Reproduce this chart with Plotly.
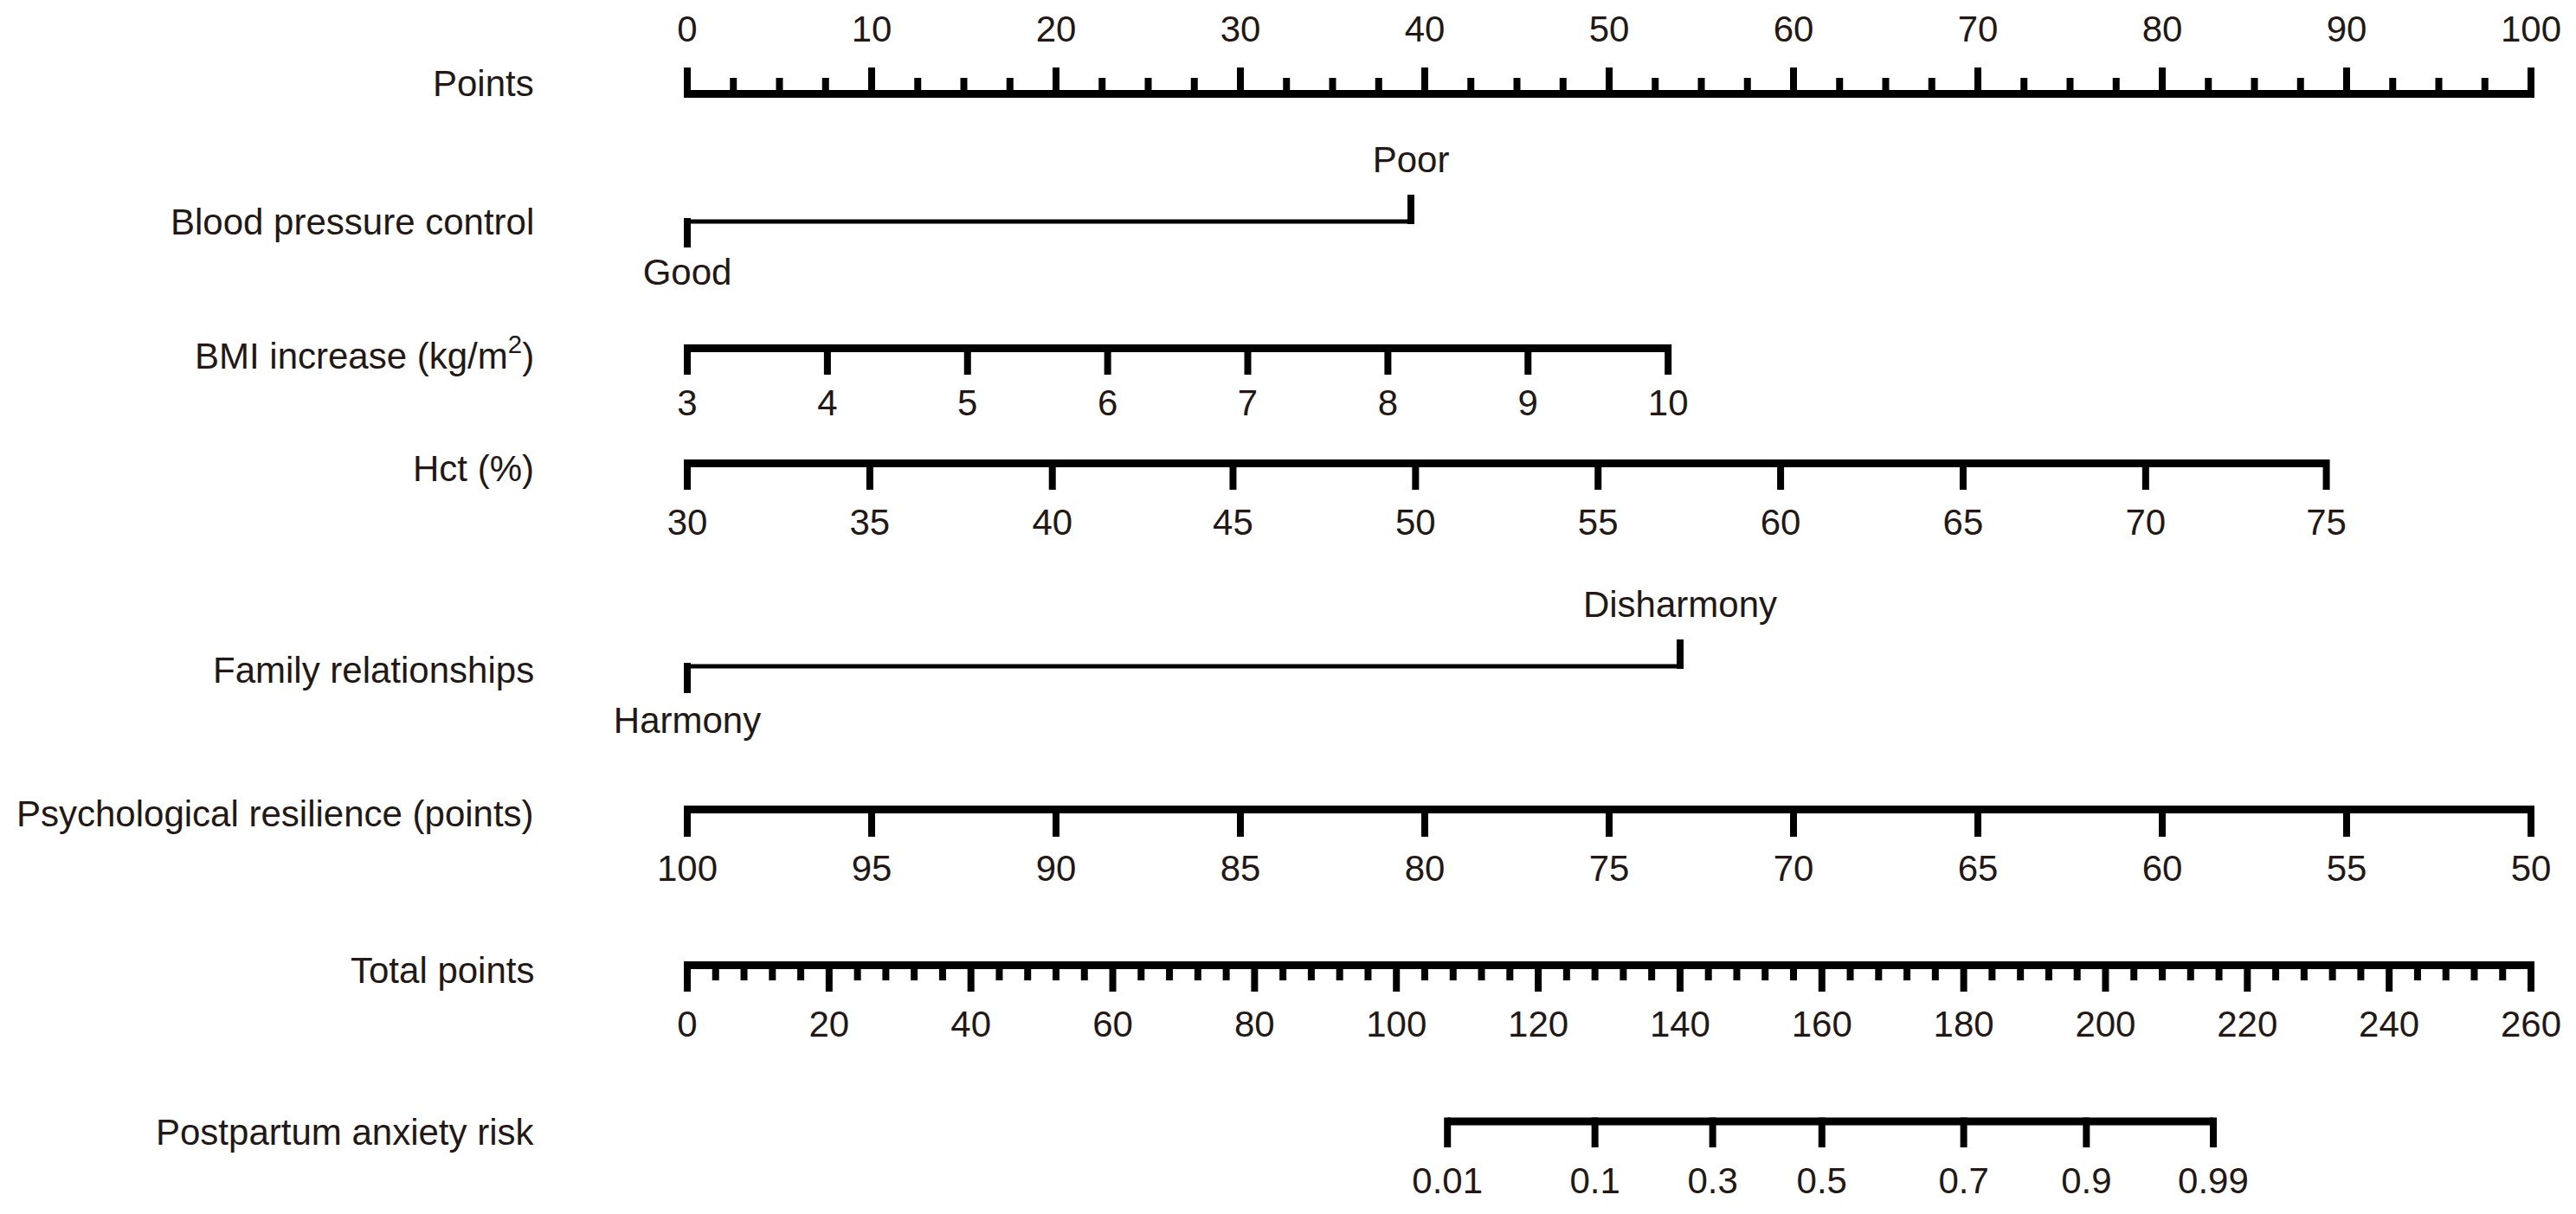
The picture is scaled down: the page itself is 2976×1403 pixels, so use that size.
import plotly.graph_objects as go

# ---------------- data ----------------
points_major = [0, 10, 20, 30, 40, 50, 60, 70, 80, 90, 100]
points_minor = [v / 10 for v in range(0, 1001, 25) if v % 100 != 0]

bp_levels = ["Good", "Poor"]
bp_points = [0.0, 39.25]

bmi_values = [3, 4, 5, 6, 7, 8, 9, 10]
bmi_points = [0.0, 7.6, 15.2, 22.8, 30.4, 38.0, 45.6, 53.2]

hct_values = [30, 35, 40, 45, 50, 55, 60, 65, 70, 75]
hct_points = [0.0, 9.9, 19.8, 29.6, 39.5, 49.4, 59.3, 69.2, 79.1, 88.9]

family_levels = ["Harmony", "Disharmony"]
family_points = [0.0, 53.85]

psych_values = [100, 95, 90, 85, 80, 75, 70, 65, 60, 55, 50]
psych_points = [0, 10, 20, 30, 40, 50, 60, 70, 80, 90, 100]

total_major = [0, 20, 40, 60, 80, 100, 120, 140, 160, 180, 200, 220, 240, 260]
total_minor = [v for v in range(0, 261, 4) if v % 20 != 0]

risk_labels = ["0.01", "0.1", "0.3", "0.5", "0.7", "0.9", "0.99"]
risk_total_points = [107.2, 128.0, 144.6, 160.0, 180.0, 197.3, 215.2]

row_labels = ["Points", "Blood pressure control", "BMI increase (kg/m<sup>2</sup>)",
              "Hct (%)", "Family relationships", "Psychological resilience (points)",
              "Total points", "Postpartum anxiety risk"]

# ---------------- layout constants (pixels) ----------------
W, H = 2976, 1403
PX0, PX100 = 794, 2924
span = 100 * W / (PX100 - PX0)
xa = -PX0 / W * span
xb = xa + span
TOTAL_MAX = 260.0

FONT = "Tahoma, 'Liberation Sans', Arial, sans-serif"
FS = 42
TXT = "#231815"
LW = 9      # axis line width
TW = 8      # tick width
THIN = 5    # categorical line width

row_label_y = [96, 256, 408, 541, 774, 940, 1121, 1308]

fig = go.Figure()


def add_line(x0, x1, y, width, axis="x"):
    fig.add_trace(go.Scatter(x=[x0, x1], y=[y, y], mode="lines", xaxis=axis, yaxis="y",
                             line=dict(color="black", width=width), hoverinfo="skip",
                             showlegend=False))


def add_ticks(vals, y0, y1, axis="x", width=TW):
    xs, ys = [], []
    for v in vals:
        xs += [v, v, None]
        ys += [y0, y1, None]
    fig.add_trace(go.Scatter(x=xs, y=ys, mode="lines", xaxis=axis, yaxis="y",
                             line=dict(color="black", width=width), hoverinfo="skip",
                             showlegend=False))


def add_labels(vals, texts, y, axis="x"):
    fig.add_trace(go.Scatter(x=vals, y=[y] * len(vals), mode="text", text=texts,
                             textposition="middle center", xaxis=axis, yaxis="y",
                             textfont=dict(family=FONT, size=FS, color=TXT),
                             hoverinfo="skip", showlegend=False))


# Points axis (ticks up)
yb = 108.5
add_line(points_major[0], points_major[-1], yb, LW)
add_ticks(points_major, yb + LW / 2, 78)
add_ticks(points_minor, yb + LW / 2, 90)
add_labels(points_major, [str(v) for v in points_major], 37)

# Blood pressure control
yb = 256
add_line(bp_points[0], bp_points[-1], yb, THIN)
add_ticks([bp_points[0]], yb - 4, 286)
add_ticks([bp_points[-1]], yb + 3, 225)
add_labels([bp_points[0]], [bp_levels[0]], 318)
add_labels([bp_points[-1]], [bp_levels[-1]], 188)

# BMI
yb = 402.5
add_line(bmi_points[0], bmi_points[-1], yb, LW)
add_ticks(bmi_points, yb - LW / 2, 433)
add_labels(bmi_points, [str(v) for v in bmi_values], 469)

# Hct
yb = 535.5
add_line(hct_points[0], hct_points[-1], yb, LW)
add_ticks(hct_points, yb - LW / 2, 566)
add_labels(hct_points, [str(v) for v in hct_values], 607)

# Family relationships
yb = 770
add_line(family_points[0], family_points[-1], yb, THIN)
add_ticks([family_points[0]], yb - 4, 801)
add_ticks([family_points[-1]], yb + 3, 739)
add_labels([family_points[0]], [family_levels[0]], 836)
add_labels([family_points[-1]], [family_levels[-1]], 702)

# Psychological resilience
yb = 935.5
add_line(psych_points[0], psych_points[-1], yb, LW)
add_ticks(psych_points, yb - LW / 2, 967)
add_labels(psych_points, [str(v) for v in psych_values], 1007)

# Total points (on its own scale, x2)
yb = 1115.5
add_line(total_major[0], total_major[-1], yb, LW, axis="x2")
add_ticks(total_major, yb - LW / 2, 1146, axis="x2")
add_ticks(total_minor, yb - LW / 2, 1133, axis="x2")
add_labels(total_major, [str(v) for v in total_major], 1187, axis="x2")

# Risk (positioned on the total points scale)
yb = 1296
add_line(risk_total_points[0], risk_total_points[-1], yb, LW, axis="x2")
add_ticks(risk_total_points, yb - LW / 2, 1326, axis="x2")
add_labels(risk_total_points, risk_labels, 1368, axis="x2")

# Row labels
annotations = []
for lab, y in zip(row_labels, row_label_y):
    annotations.append(dict(text=lab, xref="paper", x=619 / W, xanchor="right",
                            yref="y", y=y, yanchor="middle", showarrow=False,
                            font=dict(family=FONT, size=FS, color=TXT)))

fig.update_layout(
    width=W, height=H, margin=dict(l=0, r=0, t=0, b=0, pad=0),
    paper_bgcolor="white", plot_bgcolor="white",
    xaxis=dict(range=[xa, xb], visible=False, domain=[0, 1], fixedrange=True),
    xaxis2=dict(range=[xa * TOTAL_MAX / 100, xb * TOTAL_MAX / 100], visible=False,
                overlaying="x", domain=[0, 1], fixedrange=True),
    yaxis=dict(range=[H, 0], visible=False, domain=[0, 1], fixedrange=True),
    annotations=annotations,
    showlegend=False,
)

fig.write_html("out.html", config={"displayModeBar": False},
               post_script="document.body.style.margin='0';document.body.style.overflow='hidden';")
